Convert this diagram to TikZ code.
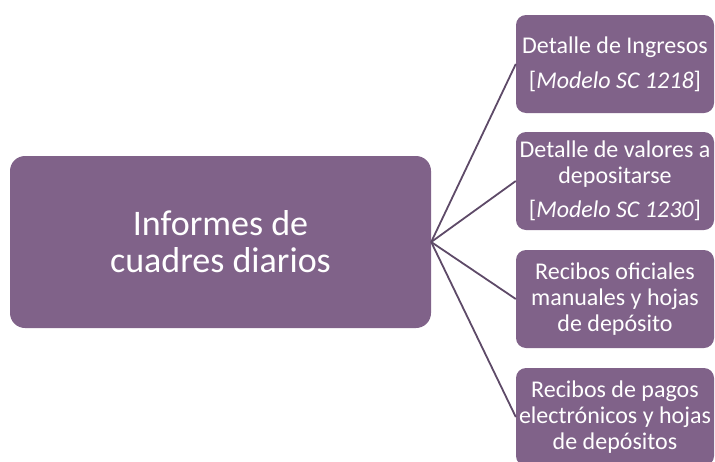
\documentclass[tikz,border=0pt]{standalone}
\usepackage{fontspec}
\setmainfont{Carlito}
\definecolor{boxfill}{RGB}{128,98,137}
\definecolor{linkcol}{RGB}{94,74,104}
\tikzset{
  mainbox/.style={fill=boxfill,rounded corners=15pt,text=white,align=center,
    minimum width=421pt,minimum height=172pt,inner sep=0pt,
    font=\fontsize{36}{37}\selectfont},
  subbox/.style={fill=boxfill,rounded corners=10pt,text=white,align=center,
    minimum width=198pt,minimum height=98pt,inner sep=0pt,
    font=\fontsize{24}{26}\selectfont},
  link/.style={draw=linkcol,line width=1.8pt}
}
\begin{document}
\begin{tikzpicture}[x=1pt,y=-1pt]
        \useasboundingbox (0,0) rectangle (715,461);
        % Left box
        \node [mainbox] (informes) at (220.5,242) {Informes de\\cuadres diarios};
        % Right boxes
        \node [subbox] (ingresos) at (615,64) {Detalle de Ingresos\\[9pt][\textit{Modelo SC 1218}]};
        \node [subbox] (valores) at (615,181) {Detalle de valores a\\depositarse\\[8pt][\textit{Modelo SC 1230}]};
        \node [subbox] (recibos) at (615,299) {Recibos oficiales\\manuales y hojas\\de depósito};
        \node [subbox] (pagos) at (615,417) {Recibos de pagos\\electrónicos y hojas\\de depósitos};
        %
        % Links from left box to right boxes
        \draw [link] (informes.east) -- (ingresos.west);
        \draw [link] (informes.east) -- (valores.west);
        \draw [link] (informes.east) -- (recibos.west);
        \draw [link] (informes.east) -- (pagos.west);
\end{tikzpicture}
\end{document}
